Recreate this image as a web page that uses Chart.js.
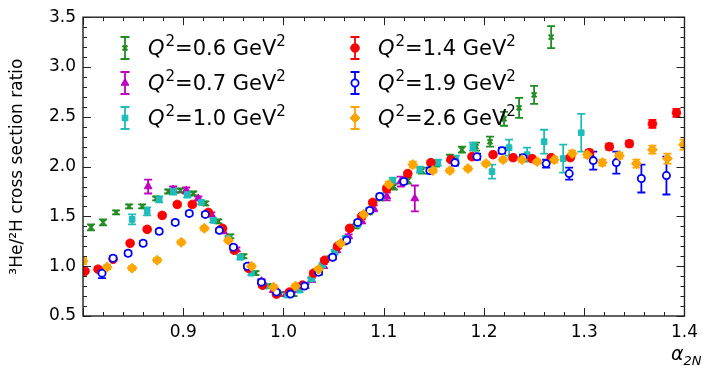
<!DOCTYPE html>
<html>
<head>
<meta charset="utf-8">
<script src="https://cdn.jsdelivr.net/npm/chart.js@4/dist/chart.umd.min.js"></script>
<style>
body { margin: 0; background: #fff; }
</style>
</head>
<body>
<canvas id="chart" width="704" height="370"></canvas>
<script>
// axis ticks
const xTicks = [0.9, 1.0, 1.1, 1.2, 1.3, 1.4]
const yTicks = [0.5, 1.0, 1.5, 2.0, 2.5, 3.0, 3.5]
const qValues = ['0.6', '0.7', '1.0', '1.4', '1.9', '2.6']

// Q2 = 0.6
const q06X = [0.808, 0.820, 0.833, 0.846, 0.859, 0.873, 0.885, 0.897, 0.910, 0.922, 0.935, 0.947, 0.960, 0.972, 0.985, 0.997, 1.010, 1.022, 1.035, 1.047, 1.060, 1.072, 1.085, 1.097, 1.110, 1.124, 1.138, 1.152, 1.166, 1.178, 1.192, 1.206, 1.220, 1.235, 1.250, 1.267]
const q06Y = [1.39, 1.44, 1.54, 1.60, 1.60, 1.68, 1.75, 1.76, 1.73, 1.63, 1.45, 1.30, 1.10, 0.93, 0.80, 0.72, 0.72, 0.80, 0.93, 1.08, 1.24, 1.40, 1.54, 1.68, 1.80, 1.86, 1.96, 2.03, 2.09, 2.17, 2.20, 2.25, 2.48, 2.59, 2.72, 3.30]
const q06Err = [0.03, 0.03, 0.02, 0.02, 0.02, 0.02, 0.02, 0.02, 0.02, 0.02, 0.02, 0.02, 0.02, 0.02, 0.02, 0.02, 0.02, 0.02, 0.02, 0.02, 0.02, 0.02, 0.02, 0.02, 0.03, 0.03, 0.03, 0.03, 0.03, 0.03, 0.04, 0.05, 0.07, 0.10, 0.09, 0.11]

// Q2 = 0.7
const q07X = [0.865, 0.890, 0.903, 0.915, 0.928, 0.940, 0.953, 0.965, 0.978, 0.990, 1.003, 1.015, 1.028, 1.040, 1.053, 1.065, 1.078, 1.090, 1.103, 1.117, 1.131]
const q07Y = [1.80, 1.77, 1.76, 1.68, 1.52, 1.35, 1.17, 1.00, 0.85, 0.76, 0.72, 0.76, 0.86, 1.00, 1.16, 1.30, 1.45, 1.58, 1.70, 1.85, 1.68]
const q07Err = [0.07, 0.03, 0.03, 0.02, 0.02, 0.02, 0.02, 0.02, 0.02, 0.02, 0.02, 0.02, 0.02, 0.02, 0.02, 0.02, 0.02, 0.03, 0.04, 0.05, 0.13]

// Q2 = 1.0
const q10X = [0.849, 0.864, 0.876, 0.890, 0.904, 0.918, 0.930, 0.945, 0.957, 0.968, 0.982, 0.993, 1.004, 1.016, 1.028, 1.039, 1.051, 1.062, 1.074, 1.086, 1.097, 1.109, 1.136, 1.154, 1.172, 1.189, 1.208, 1.225, 1.243, 1.260, 1.279, 1.297]
const q10Y = [1.47, 1.55, 1.67, 1.75, 1.72, 1.64, 1.46, 1.28, 1.09, 0.93, 0.80, 0.73, 0.71, 0.76, 0.87, 1.01, 1.14, 1.28, 1.42, 1.56, 1.70, 1.86, 1.97, 2.04, 2.07, 2.20, 1.95, 2.19, 2.12, 2.25, 2.08, 2.34]
const q10Err = [0.05, 0.04, 0.03, 0.03, 0.03, 0.02, 0.02, 0.02, 0.02, 0.02, 0.02, 0.02, 0.02, 0.02, 0.02, 0.02, 0.02, 0.02, 0.02, 0.02, 0.03, 0.03, 0.03, 0.03, 0.04, 0.04, 0.07, 0.08, 0.07, 0.12, 0.14, 0.19]

// Q2 = 1.4
const q14X = [0.802, 0.815, 0.830, 0.847, 0.864, 0.879, 0.894, 0.909, 0.925, 0.939, 0.951, 0.965, 0.979, 0.993, 1.006, 1.019, 1.030, 1.041, 1.054, 1.066, 1.078, 1.089, 1.103, 1.124, 1.147, 1.167, 1.188, 1.209, 1.229, 1.248, 1.267, 1.286, 1.305, 1.325, 1.345, 1.368, 1.392]
const q14Y = [0.95, 0.97, 1.07, 1.23, 1.37, 1.51, 1.62, 1.62, 1.54, 1.38, 1.16, 0.98, 0.81, 0.72, 0.74, 0.81, 0.93, 1.06, 1.20, 1.38, 1.50, 1.64, 1.78, 1.93, 2.04, 2.07, 2.10, 2.12, 2.09, 2.08, 2.09, 2.09, 2.14, 2.20, 2.23, 2.43, 2.54]
const q14Err = [0.02, 0.02, 0.02, 0.02, 0.02, 0.02, 0.02, 0.02, 0.02, 0.02, 0.02, 0.02, 0.02, 0.02, 0.02, 0.02, 0.02, 0.02, 0.02, 0.02, 0.02, 0.02, 0.02, 0.02, 0.02, 0.02, 0.02, 0.02, 0.02, 0.02, 0.02, 0.02, 0.03, 0.03, 0.03, 0.04, 0.04]

// Q2 = 1.9
const q19X = [0.819, 0.830, 0.845, 0.860, 0.876, 0.892, 0.906, 0.922, 0.936, 0.950, 0.964, 0.978, 0.993, 1.007, 1.021, 1.035, 1.049, 1.063, 1.074, 1.086, 1.096, 1.120, 1.146, 1.171, 1.193, 1.218, 1.239, 1.262, 1.285, 1.309, 1.332, 1.357, 1.382]
const q19Y = [0.93, 1.08, 1.13, 1.23, 1.35, 1.44, 1.53, 1.52, 1.36, 1.19, 1.00, 0.84, 0.74, 0.72, 0.80, 0.94, 1.09, 1.26, 1.44, 1.56, 1.70, 1.85, 1.96, 2.04, 2.10, 2.16, 2.09, 2.03, 1.93, 2.06, 2.04, 1.88, 1.91]
const q19Err = [0.05, 0.02, 0.02, 0.02, 0.02, 0.02, 0.02, 0.02, 0.02, 0.02, 0.02, 0.02, 0.02, 0.02, 0.02, 0.02, 0.02, 0.02, 0.02, 0.02, 0.02, 0.02, 0.03, 0.03, 0.03, 0.03, 0.03, 0.04, 0.06, 0.09, 0.11, 0.14, 0.19]

// Q2 = 2.6
const q26X = [0.800, 0.824, 0.849, 0.874, 0.898, 0.921, 0.945, 0.968, 0.990, 1.012, 1.035, 1.057, 1.080, 1.105, 1.129, 1.149, 1.166, 1.184, 1.202, 1.219, 1.238, 1.253, 1.270, 1.288, 1.303, 1.318, 1.335, 1.352, 1.368, 1.383, 1.399]
const q26Y = [1.05, 0.99, 0.98, 1.06, 1.24, 1.38, 1.26, 1.00, 0.79, 0.80, 0.97, 1.23, 1.52, 1.82, 2.02, 1.96, 1.96, 1.98, 2.03, 2.07, 2.07, 2.05, 2.07, 2.13, 2.12, 2.04, 2.11, 2.03, 2.17, 2.08, 2.22]
const q26Err = [0.03, 0.02, 0.02, 0.02, 0.02, 0.02, 0.02, 0.02, 0.02, 0.02, 0.02, 0.02, 0.02, 0.03, 0.03, 0.02, 0.02, 0.02, 0.02, 0.02, 0.02, 0.02, 0.03, 0.03, 0.03, 0.03, 0.03, 0.04, 0.04, 0.05, 0.05]

const FONT = '"DejaVu Sans", sans-serif'

function makeSet(xs, ys, errs, color, style, radius, fill) {
    return {
        data: xs.map((x, i) => ({ x: x, y: ys[i] })),
        errs: errs,
        borderColor: color,
        backgroundColor: fill || color,
        pointStyle: style,
        pointRadius: radius,
        pointHoverRadius: radius,
        pointBorderWidth: style == 'crossRot' ? 2 : (fill ? 1.8 : 1),
        showLine: false
    }
}

const series = [
    makeSet(q06X, q06Y, q06Err, '#228b22', 'crossRot', 3.5),
    makeSet(q07X, q07Y, q07Err, '#bf00bf', 'triangle', 4.5),
    makeSet(q10X, q10Y, q10Err, '#1fbcb8', 'rect', 4),
    makeSet(q14X, q14Y, q14Err, '#ff0000', 'circle', 4.3),
    makeSet(q19X, q19Y, q19Err, '#0000ff', 'circle', 3.6, '#ffffff'),
    makeSet(q26X, q26Y, q26Err, '#ffa500', 'rectRot', 5)
]
// last series on top
series.forEach((s, i) => { s.order = series.length - i })

// error bars under the markers
const errorBars = {
    id: 'errorBars',
    beforeDatasetsDraw(chart) {
        const ctx = chart.ctx
        const xs = chart.scales.x, ys = chart.scales.y
        const a = chart.chartArea
        ctx.save()
        ctx.beginPath()
        ctx.rect(a.left, a.top, a.right - a.left, a.bottom - a.top)
        ctx.clip()
        chart.data.datasets.forEach(ds => {
            ctx.strokeStyle = ds.borderColor
            ctx.lineWidth = 1.8
            ds.data.forEach((p, i) => {
                const e = ds.errs[i]
                const px = xs.getPixelForValue(p.x)
                const y1 = ys.getPixelForValue(p.y - e)
                const y2 = ys.getPixelForValue(p.y + e)
                ctx.beginPath()
                ctx.moveTo(px, y1); ctx.lineTo(px, y2)
                ctx.moveTo(px - 4, y1); ctx.lineTo(px + 4, y1)
                ctx.moveTo(px - 4, y2); ctx.lineTo(px + 4, y2)
                ctx.stroke()
            })
        })
        ctx.restore()
    }
}

// frame, inward ticks, legend and x label
const decor = {
    id: 'decor',
    afterDraw(chart) {
        const ctx = chart.ctx
        const xs = chart.scales.x, ys = chart.scales.y
        const a = chart.chartArea
        ctx.save()
        ctx.strokeStyle = '#222'
        ctx.lineWidth = 1.4
        ctx.strokeRect(a.left, a.top, a.right - a.left, a.bottom - a.top)
        ctx.lineWidth = 1
        ctx.beginPath()
        for (let k = 0; k <= 30; k++) {
            const v = 0.8 + k * 0.02
            const px = Math.round(xs.getPixelForValue(v)) + 0.5
            const len = k % 5 == 0 ? 8 : 4
            ctx.moveTo(px, a.bottom); ctx.lineTo(px, a.bottom - len)
            ctx.moveTo(px, a.top); ctx.lineTo(px, a.top + len)
        }
        for (let k = 0; k <= 30; k++) {
            const v = 0.5 + k * 0.1
            const py = Math.round(ys.getPixelForValue(v)) + 0.5
            const len = k % 5 == 0 ? 8 : 4
            ctx.moveTo(a.left, py); ctx.lineTo(a.left + len, py)
            ctx.moveTo(a.right, py); ctx.lineTo(a.right - len, py)
        }
        ctx.stroke()

        // legend
        chart.data.datasets.forEach((ds, k) => {
            const col = k < 3 ? 0 : 1
            const row = k % 3
            const mx = [125, 355][col]
            const tx = [148, 378][col]
            const cy = 48 + row * 35
            ctx.strokeStyle = ds.borderColor
            ctx.lineWidth = 1.8
            ctx.beginPath()
            ctx.moveTo(mx, cy - 11); ctx.lineTo(mx, cy + 11)
            ctx.moveTo(mx - 4.5, cy - 11); ctx.lineTo(mx + 4.5, cy - 11)
            ctx.moveTo(mx - 4.5, cy + 11); ctx.lineTo(mx + 4.5, cy + 11)
            ctx.stroke()
            ctx.fillStyle = ds.backgroundColor
            ctx.lineWidth = ds.pointBorderWidth
            Chart.helpers.drawPoint(ctx, {
                pointStyle: ds.pointStyle, radius: ds.pointRadius,
                borderWidth: ds.pointBorderWidth, rotation: 0
            }, mx, cy)

            const base = cy + 7
            let x = tx
            ctx.fillStyle = '#000'
            ctx.textBaseline = 'alphabetic'
            ctx.textAlign = 'left'
            ctx.font = 'italic 21px ' + FONT
            ctx.fillText('Q', x, base)
            x += ctx.measureText('Q').width + 1
            ctx.font = '15px ' + FONT
            ctx.fillText('2', x, base - 9)
            x += ctx.measureText('2').width
            ctx.font = '21px ' + FONT
            const s = '=' + qValues[k] + ' GeV'
            ctx.fillText(s, x, base)
            x += ctx.measureText(s).width
            ctx.font = '15px ' + FONT
            ctx.fillText('2', x, base - 9)
        })

        // x axis label
        ctx.fillStyle = '#000'
        ctx.font = 'italic 19px ' + FONT
        ctx.fillText('α', 671, 360)
        const w = ctx.measureText('α').width
        ctx.font = 'italic 13px ' + FONT
        ctx.fillText('2N', 671 + w, 365)
        ctx.restore()
    }
}

const config = {
    type: 'scatter',
    data: { datasets: series },
    options: {
        responsive: false,
        animation: false,
        devicePixelRatio: 1,
        layout: { padding: { top: 15, right: 19, left: 0, bottom: 0 } },
        plugins: {
            legend: { display: false },
            tooltip: { enabled: false }
        },
        scales: {
            x: {
                type: 'linear',
                min: 0.8,
                max: 1.4,
                afterBuildTicks: scale => { scale.ticks = xTicks.map(v => ({ value: v })) },
                afterFit: scale => { scale.height = 54 },
                grid: { display: false, drawTicks: false },
                border: { display: false },
                ticks: {
                    padding: 6,
                    color: '#000',
                    font: { family: FONT, size: 17 },
                    maxRotation: 0,
                    callback: v => v.toFixed(1)
                }
            },
            y: {
                type: 'linear',
                min: 0.5,
                max: 3.5,
                afterBuildTicks: scale => { scale.ticks = yTicks.map(v => ({ value: v })) },
                afterFit: scale => { scale.width = 83 },
                grid: { display: false, drawTicks: false },
                border: { display: false },
                ticks: {
                    padding: 7,
                    color: '#000',
                    font: { family: FONT, size: 17 },
                    callback: v => v.toFixed(1)
                },
                title: {
                    display: true,
                    text: '³He/²H cross section ratio',
                    color: '#000',
                    font: { family: FONT, size: 17 },
                    padding: { top: 7, bottom: 0 }
                }
            }
        }
    },
    plugins: [errorBars, decor]
}

new Chart(document.getElementById('chart'), config)
</script>
</body>
</html>
